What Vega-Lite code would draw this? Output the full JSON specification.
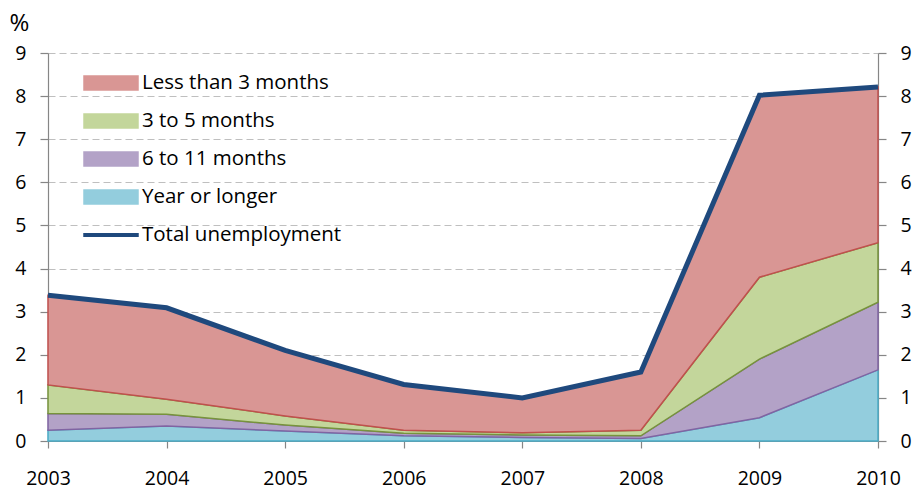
{
  "$schema": "https://vega.github.io/schema/vega-lite/v6.json",
  "width": 830,
  "height": 388,
  "autosize": "none",
  "padding": {"left": 48, "top": 53, "right": 41, "bottom": 49},
  "background": "white",
  "config": {
    "view": {"stroke": null},
    "font": "Open Sans",
    "axis": {
      "labelFont": "Open Sans",
      "labelFontSize": 19,
      "labelColor": "#000000",
      "domainColor": "#868686",
      "tickColor": "#868686",
      "domainWidth": 1.2,
      "tickWidth": 1.2,
      "titleFont": "Open Sans",
      "titleFontSize": 19,
      "titleFontWeight": "normal",
      "titleColor": "#000000"
    }
  },
  "datasets": {
    "parts": [
      {"year": 2003, "series": "Year or longer", "stackOrder": 1, "value": 0.25},
      {"year": 2004, "series": "Year or longer", "stackOrder": 1, "value": 0.35},
      {"year": 2005, "series": "Year or longer", "stackOrder": 1, "value": 0.23},
      {"year": 2006, "series": "Year or longer", "stackOrder": 1, "value": 0.12},
      {"year": 2007, "series": "Year or longer", "stackOrder": 1, "value": 0.08},
      {"year": 2008, "series": "Year or longer", "stackOrder": 1, "value": 0.06},
      {"year": 2009, "series": "Year or longer", "stackOrder": 1, "value": 0.54},
      {"year": 2010, "series": "Year or longer", "stackOrder": 1, "value": 1.65},
      {"year": 2003, "series": "6 to 11 months", "stackOrder": 2, "value": 0.39},
      {"year": 2004, "series": "6 to 11 months", "stackOrder": 2, "value": 0.27},
      {"year": 2005, "series": "6 to 11 months", "stackOrder": 2, "value": 0.14},
      {"year": 2006, "series": "6 to 11 months", "stackOrder": 2, "value": 0.06},
      {"year": 2007, "series": "6 to 11 months", "stackOrder": 2, "value": 0.06},
      {"year": 2008, "series": "6 to 11 months", "stackOrder": 2, "value": 0.06},
      {"year": 2009, "series": "6 to 11 months", "stackOrder": 2, "value": 1.36},
      {"year": 2010, "series": "6 to 11 months", "stackOrder": 2, "value": 1.57},
      {"year": 2003, "series": "3 to 5 months", "stackOrder": 3, "value": 0.66},
      {"year": 2004, "series": "3 to 5 months", "stackOrder": 3, "value": 0.35},
      {"year": 2005, "series": "3 to 5 months", "stackOrder": 3, "value": 0.21},
      {"year": 2006, "series": "3 to 5 months", "stackOrder": 3, "value": 0.07},
      {"year": 2007, "series": "3 to 5 months", "stackOrder": 3, "value": 0.05},
      {"year": 2008, "series": "3 to 5 months", "stackOrder": 3, "value": 0.13},
      {"year": 2009, "series": "3 to 5 months", "stackOrder": 3, "value": 1.90},
      {"year": 2010, "series": "3 to 5 months", "stackOrder": 3, "value": 1.38},
      {"year": 2003, "series": "Less than 3 months", "stackOrder": 4, "value": 2.08},
      {"year": 2004, "series": "Less than 3 months", "stackOrder": 4, "value": 2.12},
      {"year": 2005, "series": "Less than 3 months", "stackOrder": 4, "value": 1.52},
      {"year": 2006, "series": "Less than 3 months", "stackOrder": 4, "value": 1.06},
      {"year": 2007, "series": "Less than 3 months", "stackOrder": 4, "value": 0.81},
      {"year": 2008, "series": "Less than 3 months", "stackOrder": 4, "value": 1.35},
      {"year": 2009, "series": "Less than 3 months", "stackOrder": 4, "value": 4.22},
      {"year": 2010, "series": "Less than 3 months", "stackOrder": 4, "value": 3.61}
    ],
    "total": [
      {"year": 2003, "series": "Total unemployment", "value": 3.38},
      {"year": 2004, "series": "Total unemployment", "value": 3.09},
      {"year": 2005, "series": "Total unemployment", "value": 2.10},
      {"year": 2006, "series": "Total unemployment", "value": 1.31},
      {"year": 2007, "series": "Total unemployment", "value": 1.00},
      {"year": 2008, "series": "Total unemployment", "value": 1.60},
      {"year": 2009, "series": "Total unemployment", "value": 8.02},
      {"year": 2010, "series": "Total unemployment", "value": 8.21}
    ]
  },
  "layer": [
    {
      "data": {"name": "parts"},
      "mark": {"type": "area", "opacity": 1, "strokeWidth": 1.5, "strokeJoin": "miter"},
      "encoding": {
        "x": {
          "field": "year", "type": "quantitative",
          "scale": {"domain": [2003, 2010], "nice": false, "zero": false},
          "axis": {
            "values": [2003, 2004, 2005, 2006, 2007, 2008, 2009, 2010],
            "format": "d", "title": null, "grid": false,
            "tickSize": 7, "labelPadding": 21, "labelFlush": false,
            "labelFontSize": 19.5, "labelFont": "Open Sans", "labelColor": "#000000"
          }
        },
        "y": {
          "field": "value", "type": "quantitative", "stack": "zero",
          "scale": {"domain": [0, 9], "nice": false},
          "axis": {
            "orient": "left",
            "values": [0, 1, 2, 3, 4, 5, 6, 7, 8, 9],
            "grid": true, "gridColor": "#BFBFBF", "gridDash": [7, 4], "gridWidth": 1.2,
            "tickSize": 8, "labelPadding": 14,
            "labelFontSize": 19.5, "labelFont": "Open Sans", "labelColor": "#000000",
            "title": "%", "titleAngle": 0, "titleX": -29, "titleY": -30,
            "titleAlign": "center", "titleBaseline": "middle",
            "titleFontSize": 24, "titleFont": "Open Sans", "titleFontWeight": "normal"
          }
        },
        "order": {"field": "stackOrder", "type": "quantitative", "sort": "ascending"},
        "color": {
          "field": "series", "type": "nominal",
          "scale": {
            "domain": ["Less than 3 months", "3 to 5 months", "6 to 11 months", "Year or longer", "Total unemployment"],
            "range": ["#D99694", "#C3D69B", "#B3A2C7", "#93CDDD", "#1F497D"]
          },
          "legend": {
            "orient": "none", "legendX": 35, "legendY": 11, "title": null,
            "padding": 0, "rowPadding": 0, "clipHeight": 38,
            "symbolType": "M-1,-0.26H1V0.26H-1Z", "symbolSize": 2916,
            "symbolStrokeWidth": 1.5, "symbolOpacity": 1,
            "labelFont": "Open Sans", "labelFontSize": 20.5, "labelColor": "#000000",
            "labelOffset": 3, "labelLimit": 400,
            "encode": {
              "symbols": {
                "update": {
                  "shape": {"signal": "datum.value === 'Total unemployment' ? 'M-1,-0.05H1V0.05H-1Z' : 'M-1,-0.26H1V0.26H-1Z'"},
                  "fill": {"signal": "scale('color', datum.value)"},
                  "fillOpacity": {"value": 1},
                  "opacity": {"value": 1},
                  "stroke": {"signal": "datum.value === 'Less than 3 months' ? '#C0504D' : datum.value === '3 to 5 months' ? '#77933C' : datum.value === '6 to 11 months' ? '#8064A2' : datum.value === 'Year or longer' ? '#4BACC6' : '#1F497D'"}
                }
              }
            }
          }
        },
        "stroke": {
          "field": "series", "type": "nominal",
          "scale": {
            "domain": ["Less than 3 months", "3 to 5 months", "6 to 11 months", "Year or longer"],
            "range": ["#C0504D", "#77933C", "#8064A2", "#4BACC6"]
          },
          "legend": null
        }
      }
    },
    {
      "data": {"name": "total"},
      "mark": {"type": "line", "strokeWidth": 5, "strokeJoin": "miter"},
      "encoding": {
        "x": {"field": "year", "type": "quantitative"},
        "y": {
          "field": "value", "type": "quantitative",
          "axis": {
            "orient": "right",
            "values": [0, 1, 2, 3, 4, 5, 6, 7, 8, 9],
            "grid": false, "tickSize": 8, "labelPadding": 14, "title": null,
            "labelFontSize": 19.5, "labelFont": "Open Sans", "labelColor": "#000000"
          }
        },
        "color": {"field": "series", "type": "nominal"}
      }
    }
  ],
  "resolve": {"axis": {"y": "independent"}, "scale": {"stroke": "independent"}}
}
